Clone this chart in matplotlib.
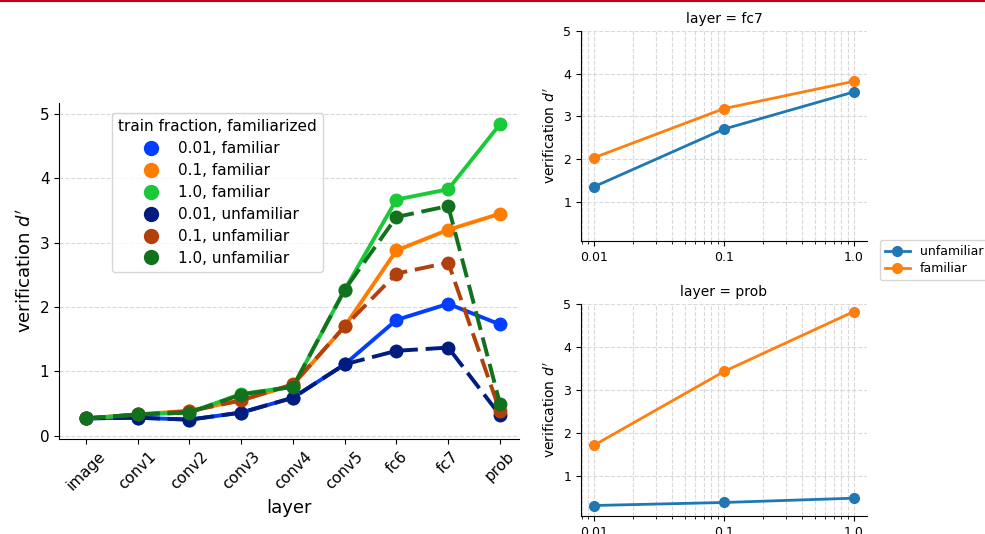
import numpy as np
import matplotlib.pyplot as plt
from matplotlib.lines import Line2D

layers = ["image", "conv1", "conv2", "conv3", "conv4", "conv5", "fc6", "fc7", "prob"]
fractions = [0.01, 0.1, 1.0]

# verification d' per layer, familiar / unfamiliar, for each train fraction
fam_001 = [0.27, 0.28, 0.25, 0.36, 0.59, 1.11, 1.80, 2.05, 1.73]
fam_01 = [0.27, 0.33, 0.39, 0.55, 0.79, 1.70, 2.88, 3.20, 3.45]
fam_10 = [0.27, 0.33, 0.36, 0.65, 0.76, 2.27, 3.67, 3.83, 4.84]
unf_001 = [0.27, 0.28, 0.25, 0.36, 0.59, 1.11, 1.32, 1.37, 0.32]
unf_01 = [0.27, 0.33, 0.38, 0.55, 0.80, 1.70, 2.52, 2.69, 0.38]
unf_10 = [0.27, 0.33, 0.36, 0.64, 0.76, 2.27, 3.40, 3.57, 0.50]

fc7_unf = [1.35, 2.70, 3.57]
fc7_fam = [2.03, 3.18, 3.82]
prob_unf = [0.32, 0.39, 0.49]
prob_fam = [1.72, 3.43, 4.82]

bright = ["#023eff", "#ff7c00", "#1ac938"]
dark = ["#001c7f", "#b1400d", "#12711c"]

fig = plt.figure(figsize=(9.85, 5.34), dpi=100)
fig.add_artist(Line2D([0, 1], [0.999, 0.999], color="#c00018", lw=1.5))

# main plot
ax = fig.add_axes([0.060, 0.178, 0.467, 0.629])
x = np.arange(len(layers))
fam = [fam_001, fam_01, fam_10]
unf = [unf_001, unf_01, unf_10]
for i, fr in enumerate(fractions):
    ax.plot(x, fam[i], color=bright[i], lw=2.8, marker="o", ms=9, zorder=3)
for i, fr in enumerate(fractions):
    ax.plot(x, unf[i], color=dark[i], lw=2.8, ls="--", dashes=(5, 2), marker="o", ms=9, zorder=3)

handles = []
for i, fr in enumerate(fractions):
    handles.append(Line2D([], [], color=bright[i], marker="o", ls="", ms=10, label="%s, familiar" % fr))
for i, fr in enumerate(fractions):
    handles.append(Line2D([], [], color=dark[i], marker="o", ls="", ms=10, label="%s, unfamiliar" % fr))
ax.legend(handles=handles, title="train fraction, familiarized", loc="upper left",
          bbox_to_anchor=(0.098, 0.992), fontsize=11, title_fontsize=11, handletextpad=0.8,
          borderpad=0.4, labelspacing=0.45)

ax.set_xticks(x)
ax.set_xticklabels(layers, rotation=45, fontsize=11)
ax.set_xlim(-0.52, 8.37)
ax.set_ylim(-0.05, 5.17)
ax.set_yticks(range(6))
ax.tick_params(axis="y", labelsize=11)
ax.set_xlabel("layer", fontsize=13)
ax.set_ylabel("verification $d'$", fontsize=13)
ax.yaxis.grid(True, ls="--", color="#d9d9d9", lw=0.8)
ax.set_axisbelow(True)
ax.spines["right"].set_visible(False)
ax.spines["top"].set_visible(False)


def small_panel(rect, unf_vals, fam_vals, name):
    a = fig.add_axes(rect)
    a.plot(fractions, unf_vals, color="#1f77b4", lw=2, marker="o", ms=7, label="unfamiliar")
    a.plot(fractions, fam_vals, color="#ff7f0e", lw=2, marker="o", ms=7, label="familiar")
    a.set_xscale("log")
    a.set_xticks(fractions)
    a.set_xticklabels(["0.01", "0.1", "1.0"])
    a.set_ylim(0.08, 5.0)
    a.set_yticks([1, 2, 3, 4, 5])
    a.tick_params(labelsize=9)
    a.grid(True, which="both", ls="--", color="#d9d9d9", lw=0.8)
    a.set_axisbelow(True)
    a.set_title(name, fontsize=10)
    a.set_ylabel("verification $d'$", fontsize=10)
    a.spines["right"].set_visible(False)
    a.spines["top"].set_visible(False)
    return a


ax_fc7 = small_panel([0.590, 0.549, 0.290, 0.393], fc7_unf, fc7_fam, "layer = fc7")
ax_prob = small_panel([0.590, 0.034, 0.290, 0.397], prob_unf, prob_fam, "layer = prob")

h, l = ax_fc7.get_legend_handles_labels()
fig.legend(h, l, loc="upper left", bbox_to_anchor=(0.887, 0.562), fontsize=9,
           handlelength=2, borderpad=0.4, labelspacing=0.3)

fig.savefig("out.png", dpi=100)
